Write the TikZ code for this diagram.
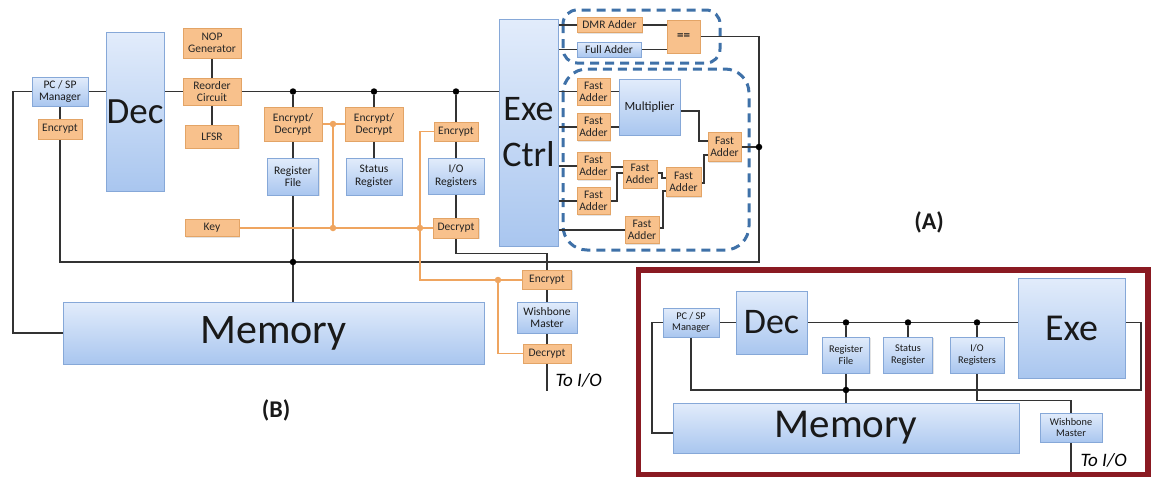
\documentclass[tikz,border=0pt]{standalone}
\usepackage{fontspec}
\setmainfont{Carlito}
\usetikzlibrary{shadows,backgrounds,calc}
\definecolor{bborder}{HTML}{86A8D8}
\definecolor{btop}{HTML}{E2ECFB}
\definecolor{bbot}{HTML}{A9C6EF}
\definecolor{ofill}{HTML}{F8C18C}
\definecolor{oborder}{HTML}{E3A466}
\definecolor{owirec}{HTML}{EFA560}
\definecolor{wirec}{HTML}{333333}
\definecolor{dashc}{HTML}{3F71A8}
\definecolor{framec}{HTML}{8A1A22}
\begin{document}
\begin{tikzpicture}[x=1pt,y=-1pt,
  wh/.style 2 args={minimum width=#1pt, minimum height=#2pt},
  bbox/.style={draw=bborder, line width=0.8pt, top color=btop, bottom color=bbot,
    align=center, inner sep=0.5pt, text=black!90, font=\fontsize{11.5}{12.5}\selectfont,
    drop shadow={opacity=0.22, shadow xshift=1pt, shadow yshift=-1.2pt}},
  obox/.style={draw=oborder, line width=0.7pt, fill=ofill, align=center, inner sep=0.5pt,
    text=black!85, font=\fontsize{11.5}{12}\selectfont,
    drop shadow={opacity=0.22, shadow xshift=1pt, shadow yshift=-1.2pt}},
  ibox/.style={bbox, font=\fontsize{10.3}{11.5}\selectfont},
  wire/.style={draw=wirec, line width=1.4pt},
  owire/.style={draw=owirec, line width=1.4pt},
  dot/.style={circle, fill=black, inner sep=0pt, minimum size=6.5pt},
  odot/.style={circle, fill=owirec, inner sep=0pt, minimum size=6.5pt},
  dashgrp/.style={draw=dashc, line width=3pt, dash pattern=on 9pt off 6pt},
  tag/.style={font=\bfseries\fontsize{24}{26}\selectfont, text=black!90}
]
\useasboundingbox (0,0) rectangle (1151,483);

%================ (B) main diagram ================
\node[bbox, wh={56}{29}] (pcsp) at (60,91.5) {PC / SP\\Manager};
\node[obox, wh={44}{20}] (encL) at (60,129) {Encrypt};
\node[bbox, wh={58}{159}, font=\fontsize{37}{40}\selectfont] (dec) at (135,111.5) {Dec};
\node[obox, wh={58}{30}] (nop) at (212,43) {NOP\\Generator};
\node[obox, wh={58}{27}] (reorder) at (212,91.5) {Reorder\\Circuit};
\node[obox, wh={53}{23}] (lfsr) at (212,136.5) {LFSR};
\node[obox, wh={58}{34}] (ed1) at (293,124) {Encrypt/\\Decrypt};
\node[obox, wh={58}{34}] (ed2) at (374,124) {Encrypt/\\Decrypt};
\node[bbox, wh={51}{37}] (rf) at (293,176.5) {Register\\File};
\node[bbox, wh={56}{37}] (sr) at (374,176.5) {Status\\Register};
\node[obox, wh={44}{19}] (encIO) at (456,131.5) {Encrypt};
\node[bbox, wh={56}{36}] (ior) at (456,176) {I/O\\Registers};
\node[obox, wh={45}{20}] (decIO) at (456,228) {Decrypt};
\node[obox, wh={54}{17}] (key) at (212,228) {Key};
\node[bbox, wh={59}{227}, font=\fontsize{36}{46}\selectfont] (exe) at (528.5,132.5) {Exe\\Ctrl};
\node[bbox, wh={421}{62}, font=\fontsize{42}{44}\selectfont] (mem) at (273.5,333) {Memory};
\node[obox, wh={49}{19}] (encB) at (547,279.5) {Encrypt};
\node[bbox, wh={60}{31}] (wb) at (547,317.5) {Wishbone\\Master};
\node[obox, wh={48}{19}] (decB) at (547,353.5) {Decrypt};
\coordinate (io1) at (547,391);
\node[anchor=west, font=\itshape\fontsize{19}{21}\selectfont] (toio1) at (552,380) {To I/O};
\node[tag] (labB) at (276,410) {(B)};
\node[tag] (labA) at (929,222) {(A)};

% execution units
\node[obox, wh={65}{15}] (dmr) at (609.5,25) {DMR Adder};
\node[bbox, wh={64}{15}] (full) at (609,49.5) {Full Adder};
\node[obox, wh={33}{33}, font=\bfseries\fontsize{13}{14}\selectfont] (eq) at (683.5,36.5) {==};
\node[obox, wh={33}{27}] (fa1) at (593.5,91.5) {Fast\\Adder};
\node[obox, wh={33}{27}] (fa2) at (593.5,127) {Fast\\Adder};
\node[bbox, wh={61}{56}, font=\fontsize{12.5}{14}\selectfont] (mult) at (649.5,107) {Multiplier};
\node[obox, wh={33}{27}] (fa3) at (593.5,166) {Fast\\Adder};
\node[obox, wh={33}{27}] (fa4) at (593.5,201) {Fast\\Adder};
\node[obox, wh={34}{28}] (fa5) at (640,174) {Fast\\Adder};
\node[obox, wh={35}{29}] (fa6) at (683.5,182) {Fast\\Adder};
\node[obox, wh={34}{27}] (fa7) at (642,230) {Fast\\Adder};
\node[obox, wh={33}{29}] (fa8) at (724.5,147) {Fast\\Adder};

\node[dot] (d1) at (293,91.5) {};
\node[dot] (d2) at (374,91.5) {};
\node[dot] (d3) at (456,91.5) {};
\node[dot] (d4) at (293,262) {};
\node[dot] (d5) at (759,147) {};
\node[odot] (o1) at (333,124) {};
\node[odot] (o2) at (333,228) {};
\node[odot] (o3) at (420,228) {};
\node[odot] (o4) at (498,280) {};

\begin{scope}[on background layer]
  \draw[dashgrp, rounded corners=14pt] (563,10) rectangle (720,63);
  \draw[dashgrp, rounded corners=24pt] (563,69) rectangle (749,250);
  % black wires
  \draw[wire] (pcsp.west) -| (13,333) -- (mem.west);
  \draw[wire] (pcsp.east) -- (pcsp.east -| dec.west);
  \draw[wire] (dec.east |- reorder.west) -- (reorder.west);
  \draw[wire] (reorder.east) -- (reorder.east -| exe.west);
  \draw[wire] (nop.south) -- (reorder.north);
  \draw[wire] (reorder.south) -- (reorder.south |- lfsr.north);
  \draw[wire] (pcsp.south) -- (encL.north);
  \draw[wire] (d1) -- (ed1.north);
  \draw[wire] (ed1.south) -- (rf.north);
  \draw[wire] (rf.south) -- (rf.south |- mem.north);
  \draw[wire] (d2) -- (ed2.north);
  \draw[wire] (ed2.south) -- (sr.north);
  \draw[wire] (d3) -- (encIO.north);
  \draw[wire] (encIO.south) -- (ior.north);
  \draw[wire] (ior.south) -- (decIO.north);
  \draw[wire] (decIO.south) -- ++(0,15) -| (encB.north);
  \draw[wire] (encB.south) -- (wb.north);
  \draw[wire] (wb.south) -- (decB.north);
  \draw[wire] (decB.south) -- (io1);
  \draw[wire] (eq.east) -| (759,262) -| (encL.south);
  % execution unit wires
  \draw[wire] (exe.east |- dmr.west) -- (dmr.west);
  \draw[wire] (exe.east |- full.west) -- (full.west);
  \draw[wire] (dmr.east) -- (dmr.east -| eq.west);
  \draw[wire] (full.east) -- (full.east -| eq.west);
  \draw[wire] (exe.east |- fa1.west) -- (fa1.west);
  \draw[wire] (exe.east |- fa2.west) -- (fa2.west);
  \draw[wire] (exe.east |- fa3.west) -- (fa3.west);
  \draw[wire] (exe.east |- fa4.west) -- (fa4.west);
  \draw[wire] (exe.east |- fa7.west) -- (fa7.west);
  \draw[wire] (fa1.east) -- (fa1.east -| mult.west);
  \draw[wire] (fa2.east) -- (fa2.east -| mult.west);
  \draw[wire] ($(mult.east)+(0,4)$) -| (699,141) -- (fa8.west |- 0,141);
  \draw[wire] (fa3.east |- 0,167) -- (fa5.west |- 0,167);
  \draw[wire] (fa4.east) -| (617,173) -- (fa5.west |- 0,173);
  \draw[wire] (fa5.east |- 0,173) -| (662,178) -- (fa6.west |- 0,178);
  \draw[wire] (fa7.east |- 0,228) -| (663,191) -- (fa6.west |- 0,191);
  \draw[wire] (fa6.east |- 0,183) -| (704,155) -- (fa8.west |- 0,155);
  \draw[wire] (fa8.east) -- (d5);
  % orange key wires
  \draw[owire] (ed1.east |- o1) -- (ed2.west |- o1);
  \draw[owire] (o1) -- (o2);
  \draw[owire] (key.east) -- (key.east -| decIO.west);
  \draw[owire] (encIO.west) -| (o4 -| o3) -- (encB.west |- o4);
  \draw[owire] (o4) |- (decB.west);
\end{scope}

%================ inset ================
\draw[draw=framec, line width=5.5pt] (638.5,270) rectangle (1148,474.5);
\node[ibox, wh={56}{29}] (ipcsp) at (691,322.5) {PC / SP\\Manager};
\node[bbox, wh={71}{63}, font=\fontsize{36}{38}\selectfont] (idec) at (771.5,322.5) {Dec};
\node[ibox, wh={47}{36}] (irf) at (846,355) {Register\\File};
\node[ibox, wh={49}{36}] (isr) at (908,355) {Status\\Register};
\node[ibox, wh={54}{36}] (iior) at (977,355) {I/O\\Registers};
\node[bbox, wh={107}{100}, font=\fontsize{38}{40}\selectfont] (iexe) at (1071.5,328) {Exe};
\node[bbox, wh={346}{50}, font=\fontsize{41}{43}\selectfont] (imem) at (846,428) {Memory};
\node[ibox, wh={62}{29}] (iwb) at (1071,427.5) {Wishbone\\Master};
\coordinate (io2) at (1071,472);
\node[anchor=west, font=\itshape\fontsize{19}{21}\selectfont] (toio2) at (1077,460) {To I/O};
\node[dot] (e1) at (846,322.5) {};
\node[dot] (e2) at (908,322.5) {};
\node[dot] (e3) at (977,322.5) {};
\node[dot] (e4) at (846,390) {};
\begin{scope}[on background layer]
  \draw[wire] (ipcsp.west) -| (652,433) -- (imem.west |- 0,433);
  \draw[wire] (ipcsp.east) -- (idec.west);
  \draw[wire] (idec.east) -- (idec.east -| iexe.west);
  \draw[wire] (iexe.east |- idec.east) -| (1141,390) -| (ipcsp.south);
  \draw[wire] (e1) -- (irf.north);
  \draw[wire] (irf.south) -- (irf.south |- imem.north);
  \draw[wire] (e2) -- (isr.north);
  \draw[wire] (e3) -- (iior.north);
  \draw[wire] (iior.south) -- ++(0,27) -| (iwb.north);
  \draw[wire] (iwb.south) -- (io2);
\end{scope}
\end{tikzpicture}
\end{document}
